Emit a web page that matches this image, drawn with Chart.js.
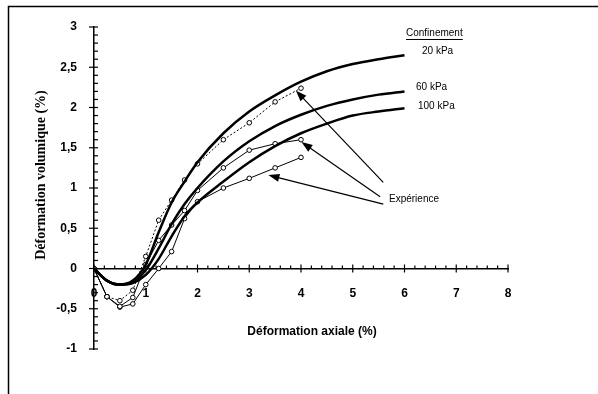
<!DOCTYPE html>
<html>
<head>
<meta charset="utf-8">
<script src="https://cdn.jsdelivr.net/npm/chart.js@4"></script>
<style>
  html, body { margin: 0; padding: 0; background: #fff; }
  #wrap { width: 598px; height: 394px; }
</style>
</head>
<body>
<div id="wrap"><canvas id="myChart" width="598" height="394"></canvas></div>
<script>
// model curves (thick lines)
const xModel = [0, 0.25, 0.5, 0.75, 1, 1.25, 1.5, 1.75, 2, 2.5, 3, 3.5, 4, 4.5, 5, 5.5, 6];
const model20 = [0, -0.15, -0.2, -0.15, 0.05, 0.45, 0.82, 1.08, 1.32, 1.68, 1.95, 2.15, 2.32, 2.45, 2.54, 2.6, 2.65];
const model60 = [0, -0.15, -0.2, -0.17, -0.02, 0.25, 0.55, 0.8, 1.0, 1.33, 1.58, 1.77, 1.91, 2.02, 2.1, 2.16, 2.2];
const model100 = [0, -0.15, -0.2, -0.18, -0.08, 0.12, 0.4, 0.65, 0.82, 1.08, 1.32, 1.52, 1.68, 1.8, 1.9, 1.95, 1.99];

// experiments (circles)
const xExp = [0, 0.25, 0.5, 0.75, 1, 1.25, 1.5, 1.75, 2, 2.5, 3, 3.5, 4];
const exp20 = [0, -0.35, -0.4, -0.27, 0.15, 0.6, 0.85, 1.1, 1.3, 1.6, 1.81, 2.07, 2.24];
const exp60 = [0, -0.35, -0.47, -0.36, 0.05, 0.35, 0.54, 0.72, 0.97, 1.25, 1.47, 1.55, 1.6];
const exp100 = [0, -0.35, -0.48, -0.44, -0.2, 0.0, 0.21, 0.62, 0.83, 1.0, 1.12, 1.25, 1.38];

// arrows from the "Expérience" label, data coords [x, y]
const arrowTips = [[3.9, 2.21], [4.01, 1.57], [3.37, 1.16]];
const arrowTails = [[5.59, 1.07], [5.53, 0.89], [5.59, 0.8]];

function pts(xs, ys) {
  return xs.map((x, i) => ({ x: x, y: ys[i] }));
}

function modelSet(ys) {
  return {
    data: pts(xModel, ys),
    borderColor: '#000',
    borderWidth: 2.5,
    pointRadius: 0,
    tension: 0.4,
    cubicInterpolationMode: 'monotone',
    fill: false
  };
}

function expSet(ys, dash) {
  return {
    data: pts(xExp, ys),
    borderColor: '#000',
    borderWidth: 1,
    borderDash: dash,
    pointRadius: 2.3,
    pointBorderWidth: 1,
    pointBackgroundColor: '#fff',
    pointBorderColor: '#000',
    tension: 0,
    fill: false
  };
}

const fmt = v => String(v).replace('.', ',');

const extras = {
  id: 'extras',
  afterDraw(chart) {
    const c = chart.ctx;
    const xs = chart.scales.x, ys = chart.scales.y;
    const x0 = xs.getPixelForValue(0), y0 = ys.getPixelForValue(0);
    c.save();
    c.strokeStyle = '#000';
    c.fillStyle = '#000';

    // frame
    c.lineWidth = 1.5;
    c.beginPath();
    c.moveTo(8.5, 394);
    c.lineTo(8.5, 6.5);
    c.lineTo(598, 6.5);
    c.stroke();

    // axis ticks
    c.lineWidth = 1.2;
    for (let i = 0; i <= 40; i++) {
      const px = xs.getPixelForValue(i / 5);
      c.beginPath();
      if (i % 5 === 0) { c.moveTo(px, y0 - 4); c.lineTo(px, y0 + 4); }
      else { c.moveTo(px, y0); c.lineTo(px, y0 - 3); }
      c.stroke();
    }
    for (let i = -10; i <= 30; i++) {
      const py = ys.getPixelForValue(i / 10);
      c.beginPath();
      if (i % 5 === 0) { c.moveTo(x0 - 5, py); c.lineTo(x0 + 4, py); }
      else { c.moveTo(x0, py); c.lineTo(x0 + 4, py); }
      c.stroke();
    }

    // axis titles
    c.font = 'bold 14px "Liberation Serif"';
    c.textAlign = 'center';
    c.textBaseline = 'middle';
    c.save();
    c.translate(41, 175);
    c.rotate(-Math.PI / 2);
    c.fillText('Déformation volumique (%)', 0, 0);
    c.restore();
    c.font = 'bold 12px "Liberation Sans"';
    c.fillText('Déformation axiale (%)', 312, 332);

    // legend-like labels
    c.font = '10px "Liberation Sans"';
    c.textAlign = 'left';
    c.fillText('Confinement', 406, 33);
    const w = c.measureText('Confinement').width;
    c.lineWidth = 1;
    c.beginPath();
    c.moveTo(406, 39.5);
    c.lineTo(406 + w, 39.5);
    c.stroke();
    c.fillText('20 kPa', 422, 51);
    c.fillText('60 kPa', 416, 87);
    c.fillText('100 kPa', 418, 106);
    c.fillText('Expérience', 389, 199);

    // arrows
    c.lineWidth = 1.2;
    arrowTips.forEach((t, i) => {
      const tx = xs.getPixelForValue(t[0]), ty = ys.getPixelForValue(t[1]);
      const sx = xs.getPixelForValue(arrowTails[i][0]), sy = ys.getPixelForValue(arrowTails[i][1]);
      const a = Math.atan2(ty - sy, tx - sx);
      c.beginPath();
      c.moveTo(sx, sy);
      c.lineTo(tx - 6 * Math.cos(a), ty - 6 * Math.sin(a));
      c.stroke();
      c.beginPath();
      c.moveTo(tx, ty);
      c.lineTo(tx - 11 * Math.cos(a) + 4 * Math.sin(a), ty - 11 * Math.sin(a) - 4 * Math.cos(a));
      c.lineTo(tx - 11 * Math.cos(a) - 4 * Math.sin(a), ty - 11 * Math.sin(a) + 4 * Math.cos(a));
      c.closePath();
      c.fill();
    });
    c.restore();
  }
};

const ctx = document.getElementById('myChart');

new Chart(ctx, {
  type: 'line',
  data: {
    datasets: [
      modelSet(model20),
      modelSet(model60),
      modelSet(model100),
      expSet(exp20, [2, 2]),
      expSet(exp60, []),
      expSet(exp100, [])
    ]
  },
  options: {
    responsive: false,
    animation: false,
    layout: { padding: { left: 0, right: 90, top: 27, bottom: 45 } },
    plugins: {
      legend: { display: false },
      tooltip: { enabled: false }
    },
    scales: {
      x: {
        type: 'linear',
        position: { y: 0 },
        min: 0,
        max: 8,
        grid: { display: false },
        border: { display: true, color: '#000', width: 1.5 },
        ticks: {
          stepSize: 1,
          padding: 10,
          color: '#000',
          font: { family: 'Liberation Sans', weight: 'bold', size: 12 },
          callback: v => fmt(v)
        }
      },
      y: {
        type: 'linear',
        position: 'left',
        min: -1,
        max: 3,
        grid: { display: false },
        border: { display: true, color: '#000', width: 1.5 },
        afterFit: s => { s.width = 94; },
        ticks: {
          stepSize: 0.5,
          padding: 9,
          color: '#000',
          font: { family: 'Liberation Sans', weight: 'bold', size: 12 },
          callback: v => fmt(v)
        }
      }
    }
  },
  plugins: [extras]
});
</script>
</body>
</html>
